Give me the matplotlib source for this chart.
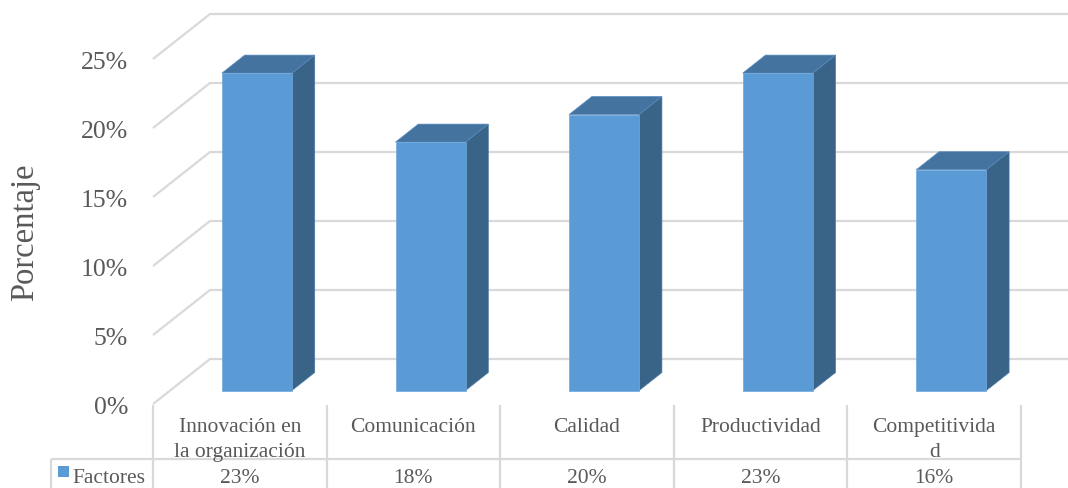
import matplotlib
matplotlib.use("Agg")
import matplotlib.pyplot as plt
from matplotlib.patches import Polygon, Rectangle

categories = ["Innovación en\nla organización", "Comunicación", "Calidad",
              "Productividad", "Competitivida\nd"]
values = [23, 18, 20, 23, 16]
value_labels = ["23%", "18%", "20%", "23%", "16%"]
series_name = "Factores"
yticks = [0, 5, 10, 15, 20, 25]
ytick_labels = ["0%", "5%", "10%", "15%", "20%", "25%"]

W, H = 1068, 489
fig = plt.figure(figsize=(W / 100, H / 100), dpi=100)
ax = fig.add_axes([0, 0, 1, 1])
ax.axis("off")

# layout (pixel geometry of the reference)
col_w = 173.6          # px per category
x0_px = 153.0          # left edge of first column
y0_px = 405.0          # front of 0% plane
pp = 13.8              # px per 1%

def X(px):
    return -0.5 + (px - x0_px) / col_w

def Y(py):
    return (y0_px - py) / pp

ax.set_xlim(X(0), X(W))
ax.set_ylim(Y(H), Y(0))

depth_dx = 57 / col_w
depth_dy = 45 / pp
grid_c = "#D9D9D9"
text_c = "#595959"
font = "Liberation Serif"

# gridlines (floor/back wall)
for v, lab in zip(yticks, ytick_labels):
    ax.plot([-0.5, -0.5 + depth_dx, X(W)], [v, v + depth_dy, v + depth_dy],
            color=grid_c, lw=1.6, solid_capstyle="butt", zorder=1)
    ax.text(X(128), v - 3 / pp, lab, ha="right", va="center",
            fontsize=18.5, color=text_c, family=font)

ax.text(X(25), Y(232), "Porcentaje", rotation=90, ha="center", va="center",
        fontsize=23.5, color=text_c, family=font)

# 3D bars
f0, f1 = 0.30, 0.70
bw = 70 / col_w
front_c = "#5B9BD5"
top_c = "#44739F"
side_c = "#3A6487"
for i, v in enumerate(values):
    cx = i + f0 * depth_dx
    b = f0 * depth_dy
    xl, xr = cx - bw / 2, cx + bw / 2
    ddx = (f1 - f0) * depth_dx
    ddy = (f1 - f0) * depth_dy
    side = Polygon([(xr, b), (xr + ddx, b + ddy), (xr + ddx, v + b + ddy), (xr, v + b)],
                   closed=True, facecolor=side_c, edgecolor="#4A78A8", lw=0.5, zorder=3)
    top = Polygon([(xl, v + b), (xr, v + b), (xr + ddx, v + b + ddy), (xl + ddx, v + b + ddy)],
                  closed=True, facecolor=top_c, edgecolor="#5A8CC0", lw=0.5, zorder=3)
    front = Rectangle((xl, b), bw, v, facecolor=front_c, edgecolor="#6FA6DA", lw=0.5, zorder=4)
    ax.add_patch(side)
    ax.add_patch(top)
    ax.add_patch(front)

# data table
n = len(categories)
tl = dict(color=grid_c, lw=1.6, zorder=2, solid_capstyle="butt")
for k in range(n + 1):
    ax.plot([-0.5 + k, -0.5 + k], [Y(406), Y(H)], **tl)
ax.plot([X(51), X(51)], [Y(460), Y(H)], **tl)
ax.plot([X(51), -0.5 + n], [Y(460), Y(460)], **tl)

for i, c in enumerate(categories):
    ax.text(i, Y(418), c, ha="center", va="top", fontsize=15.5, color=text_c,
            family=font, linespacing=1.45)
    ax.text(i, Y(479), value_labels[i], ha="center", va="center", fontsize=15.5,
            color=text_c, family=font)

ax.add_patch(Rectangle((X(58), Y(478)), X(69) - X(58), Y(467) - Y(478),
                       facecolor=front_c, edgecolor="none", zorder=3))
ax.text(X(72), Y(479), series_name, ha="left", va="center", fontsize=15.5,
        color=text_c, family=font)

fig.savefig("out.png", dpi=100)
